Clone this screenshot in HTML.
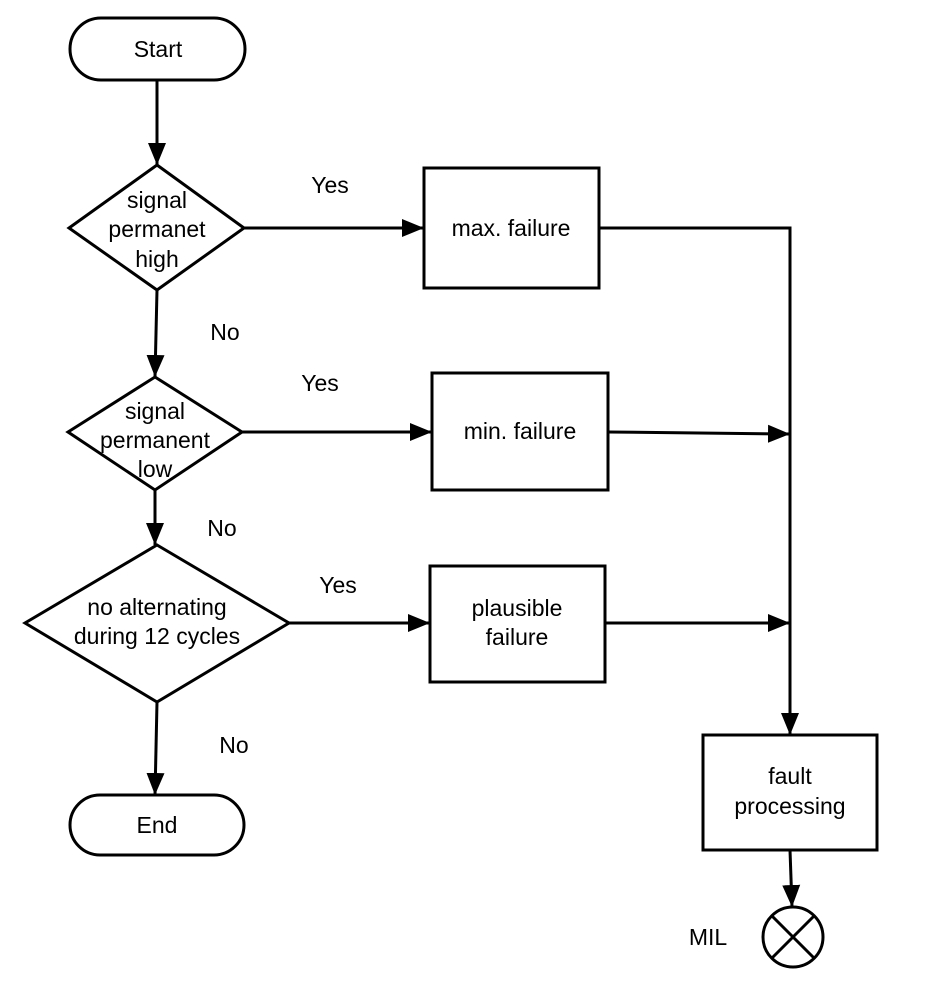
<!DOCTYPE html>
<html><head><style>body{margin:0;background:#fff}svg{display:block}text{font-family:"Liberation Sans",sans-serif;font-size:23px;fill:#000}</style></head><body>
<svg width="928" height="988" viewBox="0 0 928 988">
<defs>
<marker id="b" markerWidth="22" markerHeight="22" refX="22" refY="11" orient="auto" markerUnits="userSpaceOnUse" viewBox="0 0 22 22"><path d="M0,2L22,11L0,20z" fill="#000"/></marker></defs>
<g stroke="#000" stroke-width="3" fill="none">
<rect x="70" y="18" width="175" height="62" rx="31"/>
<rect x="70" y="795" width="174" height="60" rx="30"/>
<path d="M157,165L244,228L157,290L69,228Z"/>
<path d="M155,377L242,432L155,490L68,432Z"/>
<path d="M157,545L289,623L157,702L25,623Z"/>
<rect x="424" y="168" width="175" height="120"/>
<rect x="432" y="373" width="176" height="117"/>
<rect x="430" y="566" width="175" height="116"/>
<rect x="703" y="735" width="174" height="115"/>
<circle cx="793" cy="937" r="30"/>
<path d="M772,916L814,958M814,916L772,958"/>
<path d="M157,80V165" marker-end="url(#b)"/>
<path d="M157,290L155,377" marker-end="url(#b)"/>
<path d="M155,490V545" marker-end="url(#b)"/>
<path d="M157,702L155,795" marker-end="url(#b)"/>
<path d="M244,228H424" marker-end="url(#b)"/>
<path d="M242,432H432" marker-end="url(#b)"/>
<path d="M289,623H430" marker-end="url(#b)"/>
<path d="M599,228H790V735" marker-end="url(#b)"/>
<path d="M608,432L790,434" marker-end="url(#b)"/>
<path d="M605,623H790" marker-end="url(#b)"/>
<path d="M790,850L792,907" marker-end="url(#b)"/>
</g>
<g text-anchor="middle">
<text x="158" y="57">Start</text>
<text x="157" y="833">End</text>
<text x="157" y="208">signal</text><text x="157" y="237">permanet</text><text x="157" y="267">high</text>
<text x="155" y="419">signal</text><text x="155" y="448">permanent</text><text x="155" y="477">low</text>
<text x="157" y="615">no alternating</text><text x="157" y="644">during 12 cycles</text>
<text x="511" y="236">max. failure</text>
<text x="520" y="439">min. failure</text>
<text x="517" y="616">plausible</text><text x="517" y="645">failure</text>
<text x="790" y="784">fault</text><text x="790" y="814">processing</text>
<text x="330" y="193">Yes</text><text x="320" y="391">Yes</text><text x="338" y="593">Yes</text>
<text x="225" y="340">No</text><text x="222" y="536">No</text><text x="234" y="753">No</text>
<text x="708" y="945">MIL</text>
</g>
</svg>
</body></html>
